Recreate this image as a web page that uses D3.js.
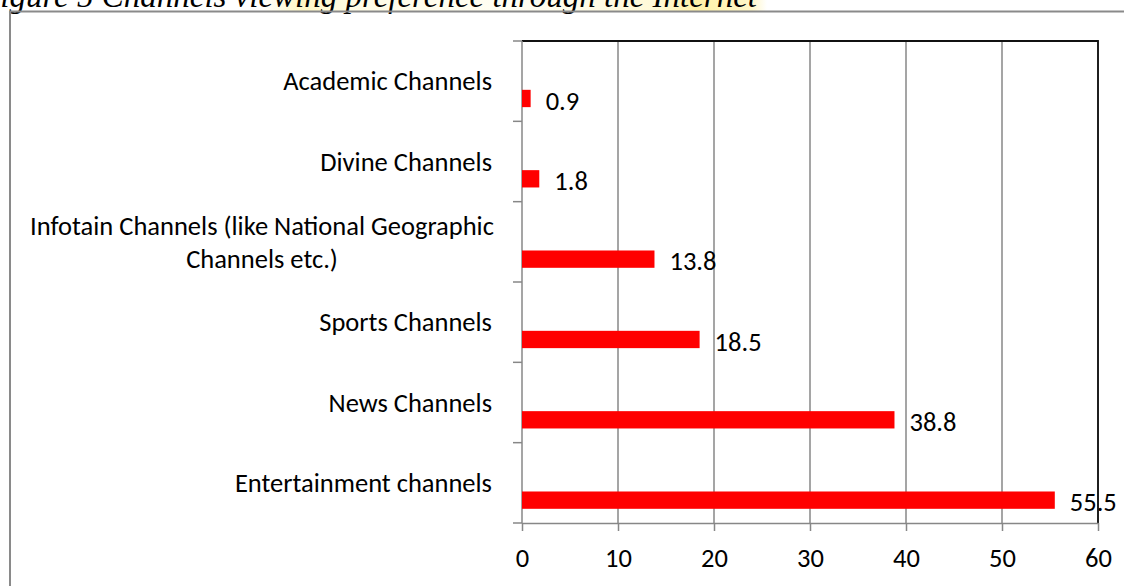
<!DOCTYPE html>
<html>
<head>
<meta charset="utf-8">
<script src="https://cdn.jsdelivr.net/npm/d3@7"></script>
<style>
  html, body { margin: 0; padding: 0; background: #fff; }
  svg { display: block; }
</style>
</head>
<body>
<svg id="chart" width="1124" height="586"></svg>
<script>
// Channel categories, top to bottom, with their shares (%)
const categories = [
  "Academic Channels",
  "Divine Channels",
  "Infotain Channels (like National Geographic|Channels etc.)",
  "Sports Channels",
  "News Channels",
  "Entertainment channels"
];
const values = [0.9, 1.8, 13.8, 18.5, 38.8, 55.5];
const xTicks = [0, 10, 20, 30, 40, 50, 60];
const caption = "Figure 5 Channels viewing preference through the Internet";

const W = 1124, H = 586;
const plot = { left: 522, right: 1098, top: 41, bottom: 523 };
const labelFont = "Carlito, Lato, 'Open Sans', sans-serif";
const labelSize = 26.5;

const svg = d3.select("#chart");

// caption highlight
const defs = svg.append("defs");
const hl = defs.append("linearGradient").attr("id", "hl")
  .attr("x1", 0).attr("x2", 1).attr("y1", 0).attr("y2", 0);
[[0, "#ffffff"], [0.08, "#fff7c4"], [0.18, "#fffce6"], [0.5, "#fffef4"],
 [0.78, "#fff9d8"], [0.86, "#fff2a8"], [0.97, "#fff7c8"], [1, "#ffffff"]]
  .forEach(([o, c]) => hl.append("stop").attr("offset", o).attr("stop-color", c));
svg.append("rect").attr("x", 262).attr("y", 0).attr("width", 505).attr("height", 11)
  .attr("fill", "url(#hl)");

svg.append("text")
  .attr("x", 757).attr("y", 7)
  .attr("text-anchor", "end")
  .attr("font-family", "'Liberation Serif', 'Times New Roman', serif")
  .attr("font-style", "italic")
  .attr("font-size", 33)
  .attr("fill", "#000")
  .text(caption);

// page frame lines
svg.append("line").attr("x1", 9).attr("x2", W).attr("y1", 11.5).attr("y2", 11.5)
  .attr("stroke", "#8a8a8a").attr("stroke-width", 2);
svg.append("line").attr("x1", 10).attr("x2", 10).attr("y1", 11).attr("y2", H)
  .attr("stroke", "#8a8a8a").attr("stroke-width", 2);

// scales
const x = d3.scaleLinear().domain([0, 60]).range([plot.left, plot.right]);
const y = d3.scaleBand().domain(categories).range([plot.top, plot.bottom]);
const slot = d3.scaleBand().domain([0, 1, 2]).range([0, y.bandwidth()]).paddingOuter(0.82);

// gridlines
svg.append("g").selectAll("line").data(xTicks.slice(1)).join("line")
  .attr("x1", d => x(d)).attr("x2", d => x(d))
  .attr("y1", plot.top).attr("y2", plot.bottom)
  .attr("stroke", "#878787").attr("stroke-width", 1.5);

// plot border (top and right)
svg.append("path")
  .attr("d", `M${plot.left},${plot.top}H${plot.right}V${plot.bottom}`)
  .attr("fill", "none").attr("stroke", "#111").attr("stroke-width", 1.8);

// x axis
const xAxis = svg.append("g")
  .attr("transform", `translate(0,${plot.bottom})`)
  .call(d3.axisBottom(x).tickValues(xTicks).tickSize(8).tickPadding(17).tickSizeOuter(0));
xAxis.select(".domain").attr("stroke", "#878787").attr("stroke-width", 1.5);
xAxis.selectAll(".tick line").attr("stroke", "#878787").attr("stroke-width", 1.5);
xAxis.selectAll(".tick text")
  .attr("font-family", labelFont).attr("font-size", labelSize).attr("fill", "#000");

// y axis: line and ticks at band boundaries
const bounds = categories.map(c => y(c)).concat([plot.bottom]);
svg.append("line").attr("x1", plot.left).attr("x2", plot.left)
  .attr("y1", plot.top).attr("y2", plot.bottom)
  .attr("stroke", "#878787").attr("stroke-width", 1.5);
svg.selectAll("line.ytick").data(bounds).join("line")
  .attr("class", "ytick")
  .attr("x1", plot.left - 9).attr("x2", plot.left)
  .attr("y1", d => d).attr("y2", d => d)
  .attr("stroke", "#878787").attr("stroke-width", 1.5);

// category labels; wrapped labels are centred under their first line
const catG = svg.append("g")
  .attr("font-family", labelFont).attr("font-size", labelSize).attr("fill", "#000");
categories.forEach(c => {
  const lines = c.split("|");
  const cy = y(c) + y.bandwidth() / 2;
  if (lines.length === 1) {
    catG.append("text").attr("x", 492).attr("y", cy).attr("dy", "0.35em")
      .attr("text-anchor", "end").text(lines[0]);
  } else {
    const t = catG.append("text").attr("text-anchor", "middle");
    lines.forEach((l, i) => {
      t.append("tspan").attr("x", 262)
        .attr("y", cy + (i - (lines.length - 1) / 2) * 33)
        .attr("dy", "0.35em").text(l);
    });
  }
});

// bars
const rows = categories.map((c, i) => ({ c, v: values[i] }));
svg.selectAll("rect.bar").data(rows).join("rect")
  .attr("class", "bar")
  .attr("x", x(0))
  .attr("y", d => y(d.c) + slot(2))
  .attr("width", d => x(d.v) - x(0))
  .attr("height", slot.bandwidth())
  .attr("fill", "#ff0000");

// value labels
svg.selectAll("text.val").data(rows).join("text")
  .attr("class", "val")
  .attr("x", d => x(d.v) + 15)
  .attr("y", d => y(d.c) + slot(2) + slot.bandwidth() / 2 + 2)
  .attr("dy", "0.35em")
  .attr("font-family", labelFont).attr("font-size", labelSize).attr("fill", "#000")
  .text(d => d.v.toFixed(1));
</script>
</body>
</html>
